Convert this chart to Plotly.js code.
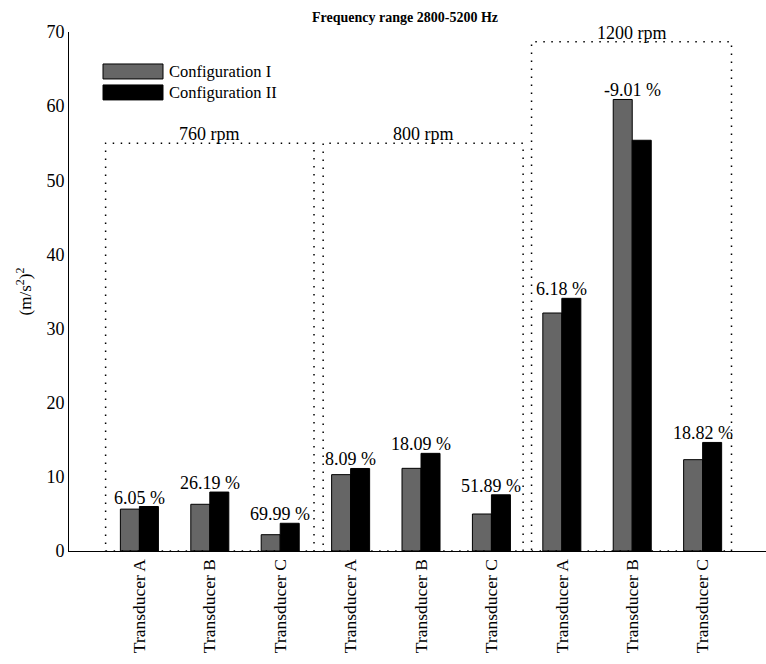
<!DOCTYPE html>
<html>
<head>
<meta charset="utf-8">
<script src="https://cdn.plot.ly/plotly-3.0.1.min.js"></script>
<style>html,body{margin:0;padding:0;background:#fff;}#chart{width:766px;height:664px;}</style>
</head>
<body>
<div id="chart"></div>
<script>
var categories = ["Transducer A","Transducer B","Transducer C","Transducer A","Transducer B","Transducer C","Transducer A","Transducer B","Transducer C"];
var configI  = [5.65, 6.3, 2.2, 10.3, 11.15, 4.99, 32.1, 60.9, 12.32];
var configII = [6.0, 7.95, 3.74, 11.13, 13.17, 7.58, 34.08, 55.4, 14.64];
var changes  = ["6.05 %","26.19 %","69.99 %","8.09 %","18.09 %","51.89 %","6.18 %","-9.01 %","18.82 %"];
var speeds   = ["760 rpm","800 rpm","1200 rpm"];
var speedTops = [55, 55, 68.7];
var seriesNames = ["Configuration I","Configuration II"];

var xs = categories.map(function(_, i){ return i; });
var font = "'Liberation Serif', 'Times New Roman', Times, serif";

var traces = [
  {type:"bar", x:xs, y:configI, name:seriesNames[0], marker:{color:"#666666", line:{color:"#000", width:1}}, showlegend:false},
  {type:"bar", x:xs, y:configII, name:seriesNames[1], marker:{color:"#000000", line:{color:"#000", width:1}}, showlegend:false}
];

var annotations = [];
for (var i = 0; i < categories.length; i++) {
  annotations.push({x:xs[i], y:Math.max(configI[i], configII[i]), xref:"x", yref:"y", text:changes[i],
    showarrow:false, yanchor:"bottom", xanchor:"center", yshift:-3, font:{family:font, size:18, color:"#000"}});
}

// speed group boxes
var boxSpans = [[-0.48, 2.48], [2.61, 5.45], [5.57, 8.41]];
var shapes = [];
for (var g = 0; g < speeds.length; g++) {
  shapes.push({type:"rect", xref:"x", yref:"y", x0:boxSpans[g][0], x1:boxSpans[g][1], y0:0, y1:speedTops[g],
    line:{color:"#000", width:1.5, dash:"1.5px,6.5px"}, fillcolor:"rgba(0,0,0,0)"});
  annotations.push({x:(boxSpans[g][0]+boxSpans[g][1])/2, y:speedTops[g], xref:"x", yref:"y", text:speeds[g],
    showarrow:false, yanchor:"bottom", xanchor:"center", yshift:-3, font:{family:font, size:18, color:"#000"}});
}

// legend swatches
var legendFill = ["#666666", "#000000"];
for (var k = 0; k < seriesNames.length; k++) {
  var swTop = 1 - (32 + k*21) / 519.5;
  var swBot = 1 - (47 + k*21) / 519.5;
  shapes.push({type:"rect", xref:"paper", yref:"paper", x0:34/697, x1:94/697, y0:swBot, y1:swTop,
    line:{color:"#000", width:1}, fillcolor:legendFill[k]});
  annotations.push({xref:"paper", yref:"paper", x:98/697, y:(swTop+swBot)/2, text:seriesNames[k], showarrow:false,
    xanchor:"left", yanchor:"middle", font:{family:font, size:16.5, color:"#000"}});
}

var layout = {
  width:766, height:664,
  margin:{l:69, r:0, t:31.5, b:113},
  paper_bgcolor:"#fff", plot_bgcolor:"#fff",
  font:{family:font, color:"#000"},
  title:{text:"<b>Frequency range 2800-5200 Hz</b>", x:405/766, xanchor:"center", y:1-17/664, yanchor:"middle",
    font:{family:font, size:14, color:"#000"}},
  barmode:"group", bargap:0.46, bargroupgap:0,
  xaxis:{range:[-1.0, 8.9], tickmode:"array", tickvals:xs, ticktext:categories, tickangle:-90,
    showgrid:false, zeroline:false, showline:true, linecolor:"#000", linewidth:1, ticks:"",
    tickfont:{family:font, size:17.5, color:"#000"}},
  yaxis:{range:[0,70], dtick:10, showgrid:false, zeroline:false, showline:true, linecolor:"#000", linewidth:1, ticks:"",
    tickfont:{family:font, size:18, color:"#000"},
    title:{text:"(m/s<sup>2</sup>)<sup>2</sup>", font:{family:font, size:17, color:"#000"}, standoff:10}},
  shapes:shapes,
  annotations:annotations,
  showlegend:false
};

Plotly.newPlot("chart", traces, layout, {staticPlot:true});
</script>
</body>
</html>
